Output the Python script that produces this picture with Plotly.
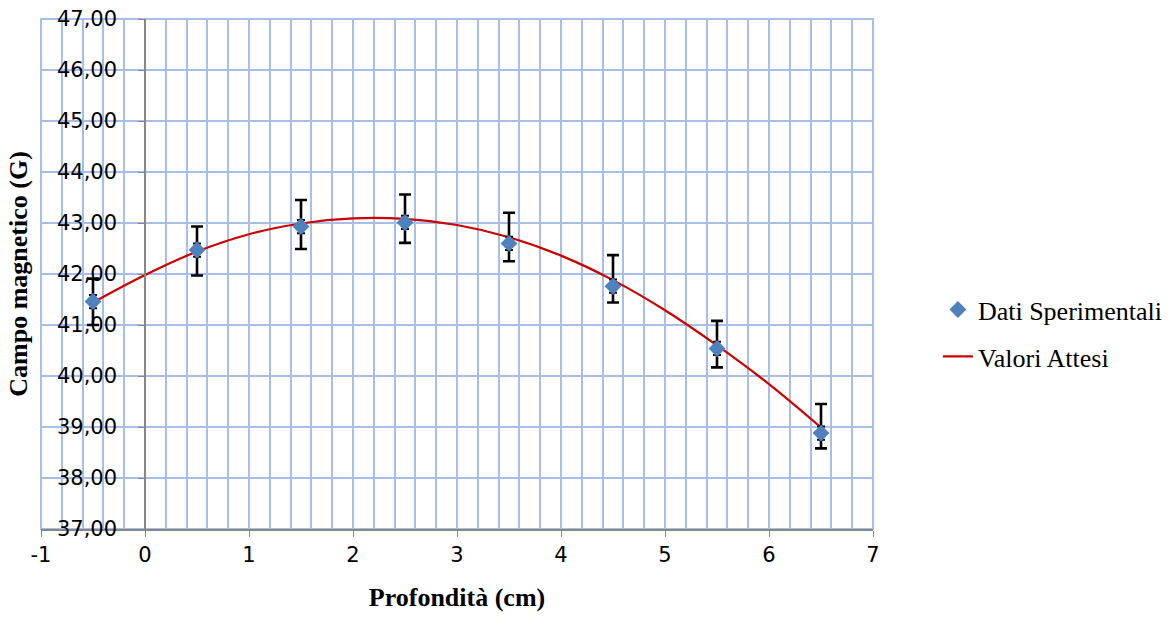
import plotly.graph_objects as go

# Data
depth = [-0.5, 0.5, 1.5, 2.5, 3.5, 4.5, 5.5, 6.5]
field = [41.46, 42.47, 42.93, 43.01, 42.60, 41.76, 40.54, 38.88]
err_plus = [0.45, 0.46, 0.52, 0.55, 0.60, 0.61, 0.54, 0.57]
err_minus = [0.46, 0.50, 0.44, 0.40, 0.35, 0.32, 0.37, 0.30]
err_small = [0.13, 0.13, 0.13, 0.13, 0.13, 0.13, 0.13, 0.13]

curve_x = [-0.5, 0, 0.5, 1, 1.5, 2, 2.5, 3, 3.5, 4, 4.5, 5, 5.5, 6, 6.5]
curve_y = [41.44, 41.98, 42.44, 42.78, 42.99, 43.09, 43.08, 42.96, 42.72,
           42.36, 41.88, 41.29, 40.60, 39.84, 38.99]

x_ticks = [-1, 0, 1, 2, 3, 4, 5, 6, 7]
x_tick_labels = ["-1", "0", "1", "2", "3", "4", "5", "6", "7"]

grid_color = "#a7bee8"
axis_color = "#868686"

fig = go.Figure()

fig.add_trace(go.Scatter(
    x=curve_x, y=curve_y, mode="lines", name="Valori Attesi",
    line=dict(color="#cc0000", width=2.2, shape="spline", smoothing=1.0),
    legendgroup="b", legendrank=2,
))

fig.add_trace(go.Scatter(
    x=depth, y=field, mode="markers", showlegend=False, hoverinfo="skip",
    marker=dict(size=1, color="rgba(0,0,0,0)"),
    error_y=dict(type="data", array=err_small, color="black", thickness=2, width=4),
    legendgroup="c", legendrank=3,
))

fig.add_trace(go.Scatter(
    x=depth, y=field, mode="markers", name="Dati Sperimentali",
    marker=dict(symbol="diamond", size=13, color="#4f81bd"),
    error_y=dict(type="data", symmetric=False, array=err_plus, arrayminus=err_minus,
                 color="black", thickness=2.6, width=6),
    legendgroup="a", legendrank=1,
))

fig.update_layout(
    width=1176, height=637,
    margin=dict(l=41, r=303, t=19, b=108, autoexpand=False),
    paper_bgcolor="white", plot_bgcolor="white",
    separators=",.",
    showlegend=True,
    legend=dict(x=1.078, y=0.384, xanchor="left", yanchor="middle",
                traceorder="grouped", tracegroupgap=10,
                font=dict(family="Liberation Serif", size=26, color="black"),
                bgcolor="rgba(0,0,0,0)"),
    xaxis=dict(
        range=[-1, 7], tickmode="array", tickvals=x_ticks, ticktext=x_tick_labels,
        showgrid=True, gridcolor=grid_color, gridwidth=2,
        minor=dict(dtick=0.2, tick0=0, showgrid=True, gridcolor=grid_color, gridwidth=2),
        zeroline=False,
        showline=True, linecolor=axis_color, linewidth=1.5,
        ticks="outside", ticklen=6, tickcolor=axis_color,
        tickfont=dict(family="DejaVu Sans", size=21, color="black"),
        title=dict(text="<b>Profondità (cm)</b>", standoff=22,
                   font=dict(family="Liberation Serif", size=26, color="black")),
    ),
    yaxis=dict(
        range=[37, 47], dtick=1, tickformat=".2f",
        showgrid=True, gridcolor=grid_color, gridwidth=2,
        zeroline=False,
        anchor="free", position=0.125,
        showline=True, linecolor=axis_color, linewidth=1.5,
        ticks="outside", ticklen=6, tickcolor=axis_color,
        ticklabelstandoff=17,
        tickfont=dict(family="DejaVu Sans", size=21, color="black"),
    ),
    annotations=[dict(
        text="<b>Campo magnetico (G)</b>", xref="paper", yref="paper",
        x=-0.028, y=0.5, xanchor="center", yanchor="middle", textangle=-90,
        showarrow=False, font=dict(family="Liberation Serif", size=26, color="black"),
    )],
    shapes=[dict(type="rect", xref="paper", yref="paper", x0=0, x1=1, y0=0, y1=1,
                 line=dict(color=grid_color, width=2), layer="below")],
)

fig.write_html("out.html")
